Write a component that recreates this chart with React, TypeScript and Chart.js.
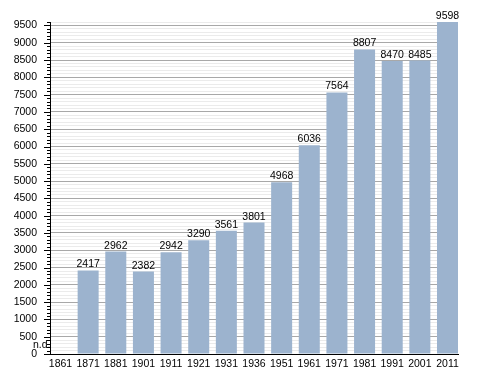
import React, { useEffect, useRef } from "react";
import { Chart, registerables } from "chart.js";

Chart.register(...registerables);

const years = ["1861", "1871", "1881", "1901", "1911", "1921", "1931", "1936", "1951", "1961", "1971", "1981", "1991", "2001", "2011"];
const population: (number | null)[] = [null, 2417, 2962, 2382, 2942, 3290, 3561, 3801, 4968, 6036, 7564, 8807, 8470, 8485, 9598];
const missingLabel = "n.d.";

const FONT = "'Liberation Sans', Arial, sans-serif";

const labelPlugin = {
  id: "barLabels",
  afterDatasetsDraw(chart: any) {
    const ctx = chart.ctx;
    const meta = chart.getDatasetMeta(0);
    ctx.save();
    ctx.font = `10.5px ${FONT}`;
    ctx.fillStyle = "#000";
    ctx.textBaseline = "alphabetic";
    meta.data.forEach((bar: any, i: number) => {
      const v = population[i];
      if (v === null) {
        ctx.textAlign = "left";
        ctx.fillText(missingLabel, chart.chartArea.left - 17, chart.chartArea.bottom - 6);
      } else {
        ctx.textAlign = "center";
        ctx.fillText(String(v), bar.x, bar.y - 3);
      }
    });
    ctx.restore();
  },
};

const tickPlugin = {
  id: "yTickMarks",
  afterDraw(chart: any) {
    const ctx = chart.ctx;
    const y = chart.scales.y;
    const left = chart.chartArea.left;
    ctx.save();
    ctx.strokeStyle = "#000";
    ctx.lineWidth = 1;
    ctx.beginPath();
    y.ticks.forEach((t: any) => {
      const py = Math.round(y.getPixelForValue(t.value)) + 0.5;
      const len = t.value % 500 === 0 ? 6 : 3;
      ctx.moveTo(left - len, py);
      ctx.lineTo(left, py);
    });
    ctx.stroke();
    ctx.restore();
  },
};

export default function App() {
  const ref = useRef<HTMLCanvasElement>(null);
  useEffect(() => {
    document.body.style.margin = "0";
    const chart = new Chart(ref.current!, {
      type: "bar",
      data: {
        labels: years,
        datasets: [
          {
            data: population,
            backgroundColor: "rgb(156,179,206)",
            borderWidth: 0,
            barPercentage: 0.76,
            categoryPercentage: 1,
          },
        ],
      },
      options: {
        responsive: false,
        animation: false,
        layout: { padding: { top: 22, right: 30, left: 0, bottom: 0 } },
        plugins: { legend: { display: false }, tooltip: { enabled: false } },
        scales: {
          x: {
            grid: { display: false, drawTicks: false },
            border: { color: "#000", width: 1 },
            ticks: { color: "#000", font: { family: FONT, size: 10.5 }, padding: 4, maxRotation: 0, autoSkip: false },
            afterFit: (scale: any) => {
              scale.height = 19;
            },
          } as any,
          y: {
            min: 0,
            max: 9600,
            border: { color: "#000", width: 1 },
            grid: {
              color: (c: any) => (c.tick && c.tick.value % 500 === 0 ? "#a8a8a8" : "#ebebeb"),
              tickColor: "rgba(0,0,0,0)",
              tickLength: 5,
              lineWidth: 1,
            },
            ticks: {
              stepSize: 100,
              autoSkip: false,
              color: "#000",
              padding: 8,
              font: { family: FONT, size: 10.5 },
              callback: (v: any) => (Number(v) % 500 === 0 && Number(v) <= 9500 ? String(v) : ""),
            },
            afterFit: (scale: any) => {
              scale.width = 50;
            },
          },
        },
      },
      plugins: [labelPlugin, tickPlugin],
    });
    // adjust category scale so bars touch both ends of the plot area
    const xs: any = chart.scales.x;
    const origBuild = xs.buildTicks.bind(xs);
    xs.buildTicks = function () {
      const t = origBuild();
      this._startValue = -0.38;
      this._valueRange = 14.76;
      return t;
    };
    chart.update();
    return () => chart.destroy();
  }, []);
  return <canvas ref={ref} width={488} height={373} style={{ display: "block" }} />;
}
